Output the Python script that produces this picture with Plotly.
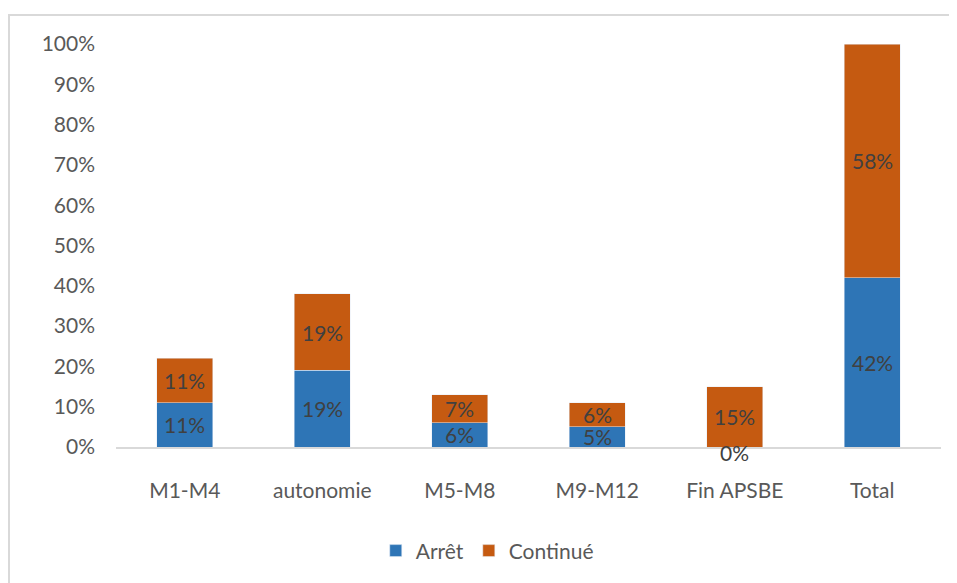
import plotly.graph_objects as go

categories = ["M1-M4", "autonomie", "M5-M8", "M9-M12", "Fin APSBE", "Total"]
arret = [11, 19, 6, 5, 0, 42]
continue_ = [11, 19, 7, 6, 15, 58]

BLUE = "#2E75B6"
ORANGE = "#C55A11"
FONT = "Lato"
FS = 21

fig = go.Figure()
fig.add_trace(go.Bar(x=categories, y=arret, name="Arrêt", marker_color=BLUE,
                     width=0.41, hoverinfo="skip"))
fig.add_trace(go.Bar(x=categories, y=continue_, name="Continué", marker_color=ORANGE,
                     width=0.41, hoverinfo="skip"))

# étiquettes au milieu de chaque segment (même pour 0%)
for cat, a, c in zip(categories, arret, continue_):
    for val, mid in ((a, a / 2), (c, a + c / 2)):
        fig.add_annotation(x=cat, y=mid, text=f"{val}%", showarrow=False,
                           yshift=-5 if val == 0 else 0,
                           font=dict(family=FONT, size=FS, color="#404040"))

fig.update_layout(
    barmode="stack",
    width=949, height=575,
    margin=dict(l=108, r=16, t=36, b=136),
    plot_bgcolor="#fff", paper_bgcolor="#fff",
    font=dict(family=FONT, size=FS, color="#595959"),
    legend=dict(orientation="h", x=0.45, xanchor="center", y=-0.258, yanchor="middle",
                font=dict(family=FONT, size=FS, color="#595959"),
                traceorder="normal"),
    showlegend=True,
)

fig.update_yaxes(range=[0, 100], dtick=10, ticksuffix="%", showgrid=False,
                 zeroline=False, showline=False, ticklabelstandoff=20,
                 tickfont=dict(family=FONT, size=FS, color="#595959"))
fig.update_xaxes(showline=True, linecolor="#d9d9d9", linewidth=2, ticks="",
                 ticklabelstandoff=24,
                 tickfont=dict(family=FONT, size=FS, color="#595959"))

# cadre gris (bord gauche et haut seulement visibles)
fig.add_shape(type="path", xref="paper", yref="paper",
              path="M -0.1297,-0.5 L -0.1297,1.072 L 1.2,1.072",
              line=dict(color="#d9d9d9", width=2), layer="below")

fig.write_html("out.html")
